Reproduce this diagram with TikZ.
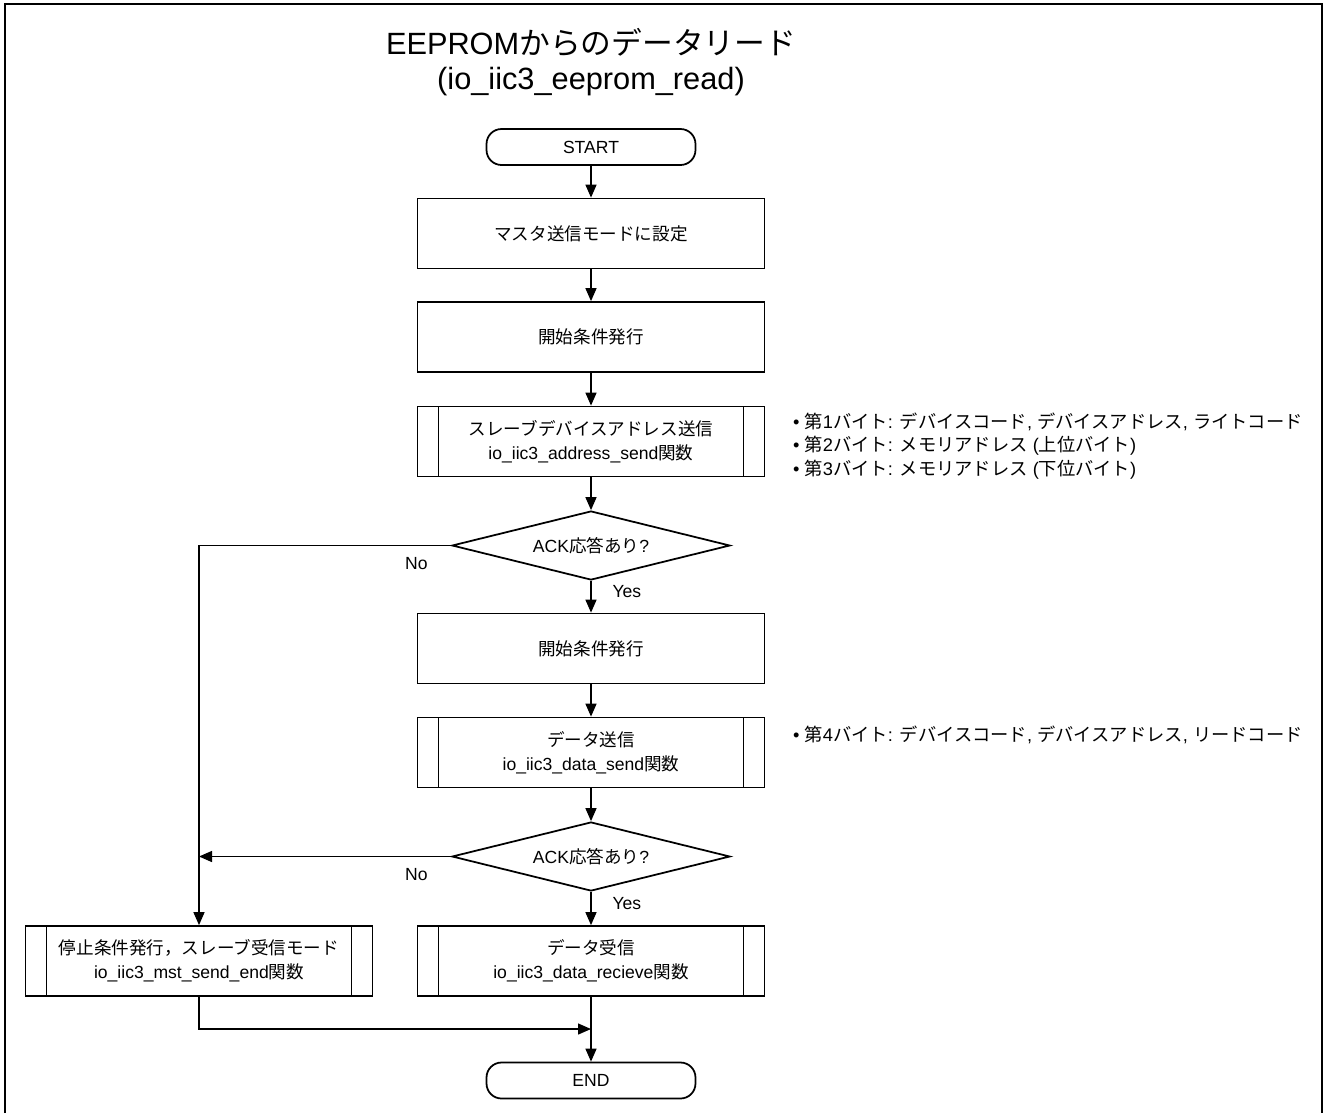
\documentclass[tikz,border=0pt]{standalone}
\usepackage{fontspec}
\setmainfont{Liberation Sans}
\newfontfamily\jpfont{Noto Sans CJK JP}
\newcommand{\jp}[1]{{\jpfont #1}}
\usetikzlibrary{arrows.meta,shapes.geometric}

\begin{document}
\begin{tikzpicture}[x=0.02cm, y=-0.02cm, font=\fontsize{10}{13.6}\selectfont]
  \tikzset{proc box/.style={draw, line width=1pt, minimum width=6.94cm, minimum height=1.4cm, align=center, inner sep=2pt},
    sub box/.style={proc box, path picture={
        \draw[line width=1pt] ([xshift=0.42cm]path picture bounding box.north west) -- ([xshift=0.42cm]path picture bounding box.south west);
        \draw[line width=1pt] ([xshift=-0.42cm]path picture bounding box.north east) -- ([xshift=-0.42cm]path picture bounding box.south east);}},
    term box/.style={draw, line width=1pt, rounded corners=0.3cm, minimum width=4.18cm, minimum height=0.72cm},
    dec box/.style={draw, line width=1pt, diamond, aspect=4, minimum width=5.56cm, minimum height=1.38cm, inner sep=1pt},
    flow arrow/.style={line width=0.8pt, -{Triangle[length=2.6mm, width=2.2mm]}},
    note/.style={anchor=west, align=left, font=\fontsize{10.4}{13.6}\selectfont}}

  \useasboundingbox (0,0) rectangle (1325,1113);
  \draw[line width=1.1pt] (5,1113) |- (1322,4) -- (1322,1113); % frame

  \node[font=\fontsize{17.5}{19.9}\selectfont, align=center] (title) at (591,62) {EEPROM\jp{からのデータリード}\\(io\_iic3\_eeprom\_read)};

  \node[term box] (start) at (591,147) {START};
  \node[proc box] (mset) at (591,233.5) {\jp{マスタ送信モードに設定}};
  \node[proc box] (cond1) at (591,337) {\jp{開始条件発行}};
  \node[sub box] (addr) at (591,441.5) {\jp{スレーブデバイスアドレス送信}\\io\_iic3\_address\_send\jp{関数}};
  \node[dec box] (ack1) at (591,545.5) {ACK\jp{応答あり}?};
  \node[proc box] (cond2) at (591,648.5) {\jp{開始条件発行}};
  \node[sub box] (dsend) at (591,752.5) {\jp{データ送信}\\io\_iic3\_data\_send\jp{関数}};
  \node[dec box] (ack2) at (591,856.5) {ACK\jp{応答あり}?};
  \node[sub box] (stop) at (199,961) {\jp{停止条件発行，スレーブ受信モード}\\io\_iic3\_mst\_send\_end\jp{関数}};
  \node[sub box] (drecv) at (591,961) {\jp{データ受信}\\io\_iic3\_data\_recieve\jp{関数}};
  \node[term box] (end) at (591,1080.5) {END};

  % notes on the right
  \node[note] (bytes) at (787,446) {• \jp{第}1\jp{バイト}: \jp{デバイスコード}, \jp{デバイスアドレス}, \jp{ライトコード}\\
    • \jp{第}2\jp{バイト}: \jp{メモリアドレス} (\jp{上位バイト})\\
    • \jp{第}3\jp{バイト}: \jp{メモリアドレス} (\jp{下位バイト})};
  \node[note] (byte4) at (787,735) {• \jp{第}4\jp{バイト}: \jp{デバイスコード}, \jp{デバイスアドレス}, \jp{リードコード}};

  \coordinate (nojoin) at (ack2.west -| stop.north);
  \coordinate (merge) at (591,1029);

  \draw[flow arrow] (start) -- (mset);
  \draw[flow arrow] (mset) -- (cond1);
  \draw[flow arrow] (cond1) -- (addr);
  \draw[flow arrow] (addr) -- (ack1);
  \draw[flow arrow] (ack1) -- node[right, pos=0.32, xshift=0.3cm] {Yes} (cond2);
  \draw[flow arrow] (ack1.west) -| node[pos=0.069, below, yshift=-0.1cm] {No} (stop.north);
  \draw[flow arrow] (cond2) -- (dsend);
  \draw[flow arrow] (dsend) -- (ack2);
  \draw[flow arrow] (ack2) -- node[right, pos=0.34, xshift=0.3cm] {Yes} (drecv);
  \draw[flow arrow] (ack2.west) -- node[pos=0.138, below, yshift=-0.1cm] {No} (nojoin);
  \draw[flow arrow] (stop.south) |- (merge);
  \draw[flow arrow] (drecv) -- (end);
\end{tikzpicture}
\end{document}
